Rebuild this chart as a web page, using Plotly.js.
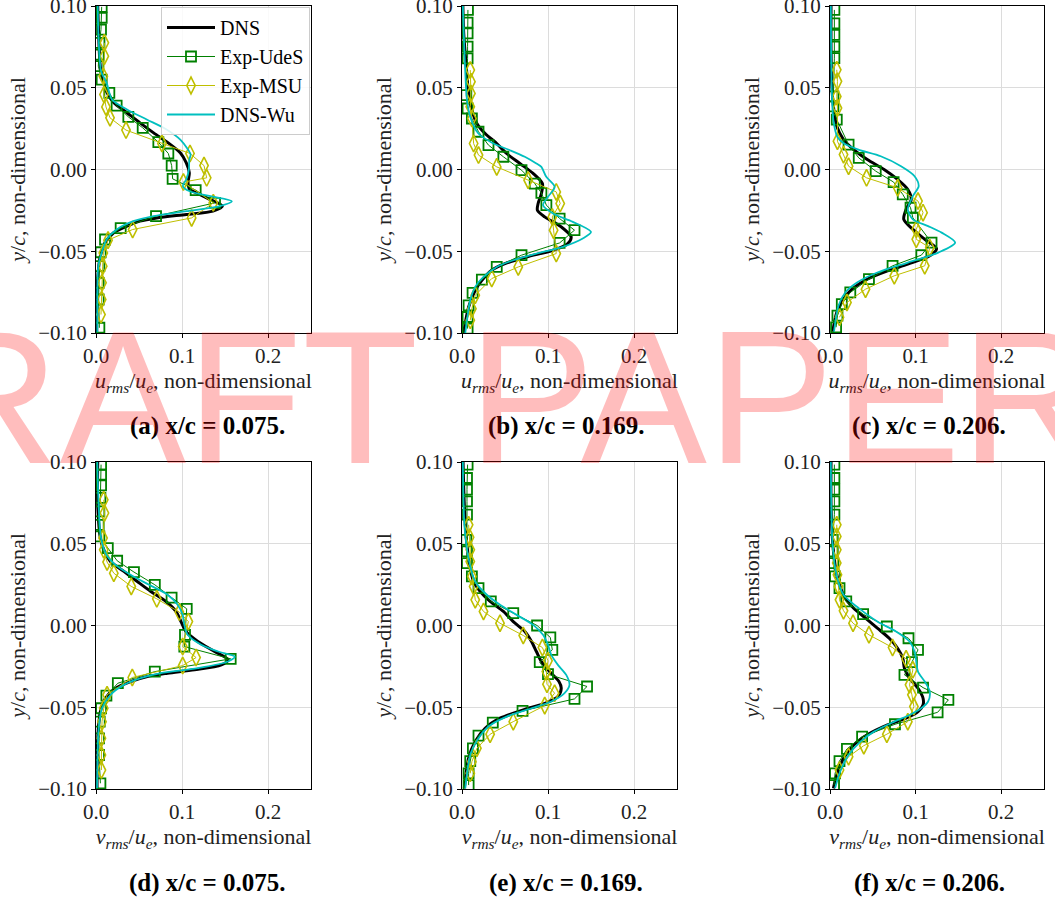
<!DOCTYPE html>
<html><head><meta charset="utf-8">
<script src="https://cdn.plot.ly/plotly-3.0.1.min.js"></script>
<style>html,body{margin:0;padding:0;background:#fff}</style>
</head><body><div id="chart" style="width:1055px;height:900px"></div>
<script>
// ---------- (a) u_rms, x/c = 0.075 ----------
const a_dns_x = [0.002,0.003,0.005,0.009,0.0128,0.0205,0.036,0.0512,0.067,0.084,0.098,0.105,0.1085,0.107,0.109,0.117,0.1326,0.147,0.136,0.105,0.0705,0.051,0.036,0.0205,0.0105,0.005,0.0016,0.0008];
const a_dns_y = [0.1,0.0836,0.063,0.053,0.047,0.041,0.0347,0.0285,0.0224,0.0163,0.0102,0.004,-0.002,-0.0082,-0.0122,-0.0143,-0.0183,-0.0224,-0.0255,-0.0275,-0.0296,-0.0316,-0.0347,-0.0387,-0.0449,-0.053,-0.0693,-0.0995];
const a_udes_x = [0.0066,0.0066,0.0058,0.004,0.0031,0.0027,0.0066,0.0155,0.024,0.0376,0.0543,0.0725,0.0841,0.088,0.0891,0.1159,0.1384,0.0698,0.0287,0.0105,0.0054,0.0039,0.0031,0.0031,0.0039];
const a_udes_y = [0.0995,0.0928,0.0856,0.0775,0.0703,0.0632,0.055,0.0469,0.0391,0.0322,0.0255,0.0167,0.0098,0.0024,-0.0057,-0.0126,-0.0204,-0.0285,-0.0359,-0.0428,-0.0506,-0.0591,-0.0693,-0.0795,-0.0968];
const a_msu_x = [0.0097,0.0097,0.0085,0.0093,0.0116,0.0163,0.0349,0.0767,0.1093,0.1256,0.1287,0.1016,0.1364,0.1112,0.0426,0.014,0.0085,0.0078,0.007,0.0066,0.0058];
const a_msu_y = [0.0775,0.0693,0.0571,0.0459,0.0383,0.0316,0.0241,0.0159,0.0098,0.0024,-0.0051,-0.0077,-0.0204,-0.0296,-0.0367,-0.0432,-0.051,-0.0591,-0.0693,-0.0795,-0.0887];
const a_wu_x = [0.002,0.003,0.006,0.0124,0.0186,0.036,0.059,0.082,0.098,0.107,0.11,0.1085,0.108,0.105,0.101,0.109,0.133,0.158,0.144,0.105,0.067,0.0434,0.024,0.0124,0.0066,0.0027,0.0016];
const a_wu_y = [0.1,0.08,0.06,0.053,0.0428,0.0367,0.0306,0.0245,0.0183,0.0122,0.0092,0.006,0,-0.006,-0.0102,-0.0133,-0.0163,-0.0194,-0.0224,-0.0255,-0.0285,-0.0316,-0.0367,-0.0428,-0.051,-0.059,-0.0995];

// ---------- (b) u_rms, x/c = 0.169 ----------
const b_dns_x = [0.001,0.002,0.005,0.0077,0.0115,0.0173,0.0269,0.0404,0.0519,0.0673,0.0827,0.0935,0.0923,0.0885,0.0877,0.0962,0.1154,0.1269,0.123,0.1058,0.075,0.05,0.0346,0.0231,0.0154,0.0077,0.0019];
const b_dns_y = [0.1,0.0833,0.0629,0.0465,0.0363,0.0282,0.022,0.0159,0.0098,0.0037,-0.0024,-0.0086,-0.0147,-0.0208,-0.0249,-0.029,-0.0351,-0.0412,-0.0453,-0.0494,-0.0535,-0.0576,-0.0616,-0.0678,-0.0739,-0.0841,-0.1];
const b_udes_x = [0.0069,0.0065,0.0065,0.0065,0.0065,0.005,0.0065,0.0115,0.0192,0.0308,0.0481,0.0692,0.0846,0.0923,0.0981,0.1135,0.1308,0.1135,0.0692,0.0404,0.0231,0.0123,0.0077,0.0065,0.0065];
const b_udes_y = [0.0976,0.0898,0.0833,0.0751,0.068,0.0455,0.0373,0.0312,0.0231,0.0149,0.0078,-0.0004,-0.0086,-0.0143,-0.0218,-0.03,-0.0371,-0.0449,-0.0524,-0.0596,-0.0673,-0.0755,-0.0831,-0.0902,-0.0973];
const b_msu_x = [0.0096,0.0104,0.0104,0.0096,0.0115,0.0135,0.0192,0.0404,0.0769,0.1096,0.1142,0.105,0.1065,0.1096,0.0654,0.0346,0.0154,0.0115,0.0096];
const b_msu_y = [0.0608,0.0537,0.0465,0.0384,0.0312,0.0159,0.0088,0.0016,-0.0065,-0.0137,-0.0208,-0.029,-0.0371,-0.0514,-0.0596,-0.0667,-0.0769,-0.0851,-0.0922];
const b_wu_x = [0.001,0.003,0.0058,0.0096,0.019,0.0365,0.0558,0.073,0.0865,0.0923,0.098,0.1077,0.1,0.0942,0.1058,0.1288,0.15,0.1404,0.1173,0.0865,0.0596,0.0404,0.025,0.0154,0.0096,0.0038];
const b_wu_y = [0.1,0.07,0.0424,0.0322,0.022,0.0159,0.0118,0.0078,0.0037,0.0016,-0.0045,-0.0106,-0.0167,-0.0218,-0.0269,-0.032,-0.0382,-0.0422,-0.0473,-0.0514,-0.0555,-0.0596,-0.0657,-0.0718,-0.08,-0.1];

// ---------- (c) u_rms, x/c = 0.206 ----------
const c_dns_x = [0.0012,0.0012,0.002,0.004,0.0079,0.0158,0.0277,0.0435,0.0632,0.079,0.0909,0.0949,0.0889,0.0862,0.0968,0.1107,0.1245,0.1166,0.0909,0.0672,0.0435,0.0257,0.0158,0.0079,0.0032];
const c_dns_y = [0.1,0.0732,0.0528,0.0386,0.0264,0.0183,0.0122,0.0061,0,-0.0061,-0.0122,-0.0183,-0.0244,-0.0305,-0.0366,-0.0427,-0.0484,-0.0528,-0.0579,-0.062,-0.0671,-0.0732,-0.0793,-0.0874,-0.0992];
const c_udes_x = [0.0051,0.0051,0.0051,0.0051,0.0051,0.004,0.004,0.0079,0.0217,0.0336,0.0534,0.0743,0.085,0.0941,0.0968,0.1186,0.1067,0.0731,0.0455,0.0237,0.0138,0.0087,0.0071];
const c_udes_y = [0.0976,0.0894,0.0823,0.0752,0.0681,0.0447,0.0386,0.0305,0.0152,0.0071,-0.001,-0.0077,-0.0152,-0.0234,-0.0295,-0.0447,-0.0524,-0.0589,-0.0671,-0.0752,-0.0823,-0.0894,-0.0965];
const c_msu_x = [0.0079,0.0087,0.0079,0.0087,0.0087,0.0158,0.0217,0.0427,0.0791,0.1028,0.1087,0.1008,0.1008,0.1166,0.1107,0.0751,0.0415,0.0198,0.0111];
const c_msu_y = [0.061,0.0539,0.0447,0.0376,0.0173,0.0091,0.002,-0.0051,-0.0112,-0.0193,-0.0264,-0.0366,-0.0427,-0.0478,-0.0589,-0.065,-0.0732,-0.0813,-0.0904];
const c_wu_x = [0.001,0.002,0.004,0.0085,0.016,0.034,0.0593,0.083,0.0988,0.1036,0.0968,0.0909,0.0968,0.1146,0.1304,0.1462,0.1265,0.0909,0.0553,0.0316,0.0178,0.0099,0.0047];
const c_wu_y = [0.1,0.05,0.03,0.02,0.016,0.012,0.0081,0.002,-0.0041,-0.0102,-0.0163,-0.0244,-0.0305,-0.0346,-0.0386,-0.0447,-0.0508,-0.0569,-0.063,-0.0691,-0.0752,-0.0833,-0.0992];

// ---------- (d) v_rms, x/c = 0.075 ----------
const d_dns_x = [0.002,0.002,0.0051,0.0098,0.0168,0.0324,0.048,0.0637,0.0813,0.093,0.0988,0.1047,0.1184,0.1379,0.1535,0.1457,0.1145,0.0832,0.0598,0.0402,0.0227,0.0109,0.0051,0.002,0.0012];
const d_dns_y = [0.1,0.0739,0.0535,0.0453,0.0392,0.0331,0.0269,0.0208,0.0147,0.0086,0.0024,-0.0037,-0.0098,-0.0159,-0.021,-0.0241,-0.0271,-0.0292,-0.0312,-0.0343,-0.0384,-0.0445,-0.0527,-0.069,-0.0996];
const d_udes_x = [0.0059,0.0059,0.0059,0.0051,0.0039,0.0031,0.0039,0.0137,0.0246,0.0441,0.0684,0.0879,0.1055,0.1035,0.1027,0.1566,0.0684,0.0254,0.0121,0.0059,0.0043,0.0035,0.0035,0.0051];
const d_udes_y = [0.0984,0.0922,0.0857,0.078,0.0698,0.0616,0.0545,0.0473,0.0396,0.0327,0.0249,0.0171,0.0102,-0.0057,-0.0129,-0.0204,-0.0282,-0.0353,-0.0429,-0.0506,-0.0588,-0.069,-0.0792,-0.0965];
const d_msu_x = [0.009,0.0098,0.0082,0.009,0.0129,0.0207,0.041,0.0707,0.0969,0.1074,0.1008,0.1164,0.1008,0.0422,0.0129,0.009,0.007,0.0063,0.0063,0.0063];
const d_msu_y = [0.0769,0.0688,0.0535,0.0463,0.0388,0.032,0.0239,0.0163,0.0082,0.0024,-0.0129,-0.0196,-0.0245,-0.0318,-0.0424,-0.0506,-0.0588,-0.069,-0.0792,-0.0884];
const d_wu_x = [0.0015,0.0059,0.0121,0.0227,0.0402,0.0617,0.0832,0.0949,0.1008,0.1027,0.1066,0.1223,0.1418,0.1613,0.1535,0.1184,0.0754,0.052,0.0324,0.0168,0.007,0.0031,0.0012];
const d_wu_y = [0.1,0.0535,0.0433,0.0371,0.031,0.0249,0.0188,0.0127,0.0065,0.0004,-0.0057,-0.0118,-0.0159,-0.019,-0.022,-0.0261,-0.0292,-0.0322,-0.0363,-0.0424,-0.0506,-0.0629,-0.0996];

// ---------- (e) v_rms, x/c = 0.169 ----------
const e_dns_x = [0.0012,0.0027,0.005,0.0088,0.0135,0.0212,0.0327,0.0481,0.0596,0.0731,0.0808,0.0865,0.0923,0.1019,0.1127,0.1154,0.1115,0.0962,0.0712,0.0442,0.0269,0.0154,0.0077,0.0027];
const e_dns_y = [0.1,0.0739,0.0535,0.0371,0.0269,0.0208,0.0147,0.0086,0.0024,-0.0037,-0.0098,-0.0159,-0.022,-0.0282,-0.0343,-0.0384,-0.0435,-0.0476,-0.0516,-0.0567,-0.0629,-0.071,-0.0812,-0.0996];
const e_udes_x = [0.0065,0.0058,0.0058,0.0058,0.0058,0.005,0.0058,0.0058,0.0115,0.0192,0.0335,0.0596,0.0873,0.1027,0.105,0.0904,0.1,0.1454,0.1308,0.0704,0.0358,0.0192,0.0127,0.0096,0.0077,0.0077];
const e_udes_y = [0.0984,0.0902,0.0831,0.0759,0.0678,0.0524,0.0453,0.0382,0.03,0.0229,0.0147,0.0076,0,-0.0073,-0.0149,-0.0224,-0.0298,-0.0373,-0.0449,-0.0522,-0.0594,-0.0673,-0.0751,-0.0829,-0.0904,-0.0976];
const e_msu_x = [0.0077,0.0088,0.0096,0.0096,0.0115,0.0135,0.0154,0.025,0.0442,0.0712,0.0935,0.1,0.0981,0.0988,0.1077,0.0962,0.0596,0.0327,0.0173,0.0115,0.0096];
const e_msu_y = [0.0616,0.0539,0.0463,0.0392,0.03,0.0239,0.0157,0.0086,0.0014,-0.0061,-0.0135,-0.0216,-0.0282,-0.0359,-0.0414,-0.049,-0.0588,-0.0665,-0.0751,-0.0833,-0.0904];
const e_wu_x = [0.001,0.003,0.008,0.0154,0.0288,0.0442,0.0635,0.0827,0.0942,0.1,0.1038,0.1115,0.1212,0.125,0.1192,0.1038,0.0808,0.0519,0.0308,0.0192,0.0096,0.0038];
const e_wu_y = [0.1,0.06,0.04,0.0269,0.0188,0.0127,0.0065,0.0004,-0.0057,-0.0118,-0.018,-0.0241,-0.0302,-0.0363,-0.0414,-0.0465,-0.0506,-0.0557,-0.0618,-0.069,-0.0792,-0.0996];

// ---------- (f) v_rms, x/c = 0.206 ----------
const f_dns_x = [0.0012,0.0012,0.0028,0.0059,0.0111,0.0178,0.0277,0.0415,0.0553,0.0692,0.079,0.085,0.087,0.0929,0.1028,0.1087,0.1087,0.1028,0.0889,0.0672,0.0435,0.0277,0.0158,0.0079,0.004];
const f_dns_y = [0.1,0.0739,0.0535,0.0371,0.0249,0.0167,0.0106,0.0045,-0.0016,-0.0078,-0.0139,-0.02,-0.0261,-0.0322,-0.0384,-0.0445,-0.0486,-0.0527,-0.0567,-0.0608,-0.0669,-0.0731,-0.0812,-0.0914,-0.0996];
const f_udes_x = [0.0051,0.0051,0.0051,0.0051,0.0051,0.0032,0.0032,0.004,0.0059,0.0111,0.019,0.0387,0.0664,0.0917,0.1028,0.0957,0.087,0.1087,0.1383,0.1257,0.0759,0.0375,0.0198,0.0111,0.0059,0.0047];
const f_udes_y = [0.0984,0.0902,0.0831,0.0759,0.0678,0.0524,0.0453,0.0382,0.03,0.0229,0.0147,0.0069,-0.0006,-0.0078,-0.0149,-0.0224,-0.0302,-0.038,-0.0455,-0.0531,-0.0604,-0.068,-0.0755,-0.0829,-0.0904,-0.0976];
const f_msu_x = [0.0079,0.0079,0.0079,0.0079,0.0087,0.0099,0.0111,0.0158,0.0269,0.0455,0.0731,0.0889,0.0968,0.0929,0.0957,0.098,0.0909,0.0664,0.0395,0.0217,0.0111];
const f_msu_y = [0.0616,0.0545,0.0463,0.0382,0.031,0.0239,0.0157,0.009,0.0014,-0.0057,-0.0135,-0.0204,-0.0271,-0.0363,-0.0424,-0.0496,-0.0588,-0.0665,-0.0735,-0.0802,-0.0884];
const f_wu_x = [0.001,0.003,0.008,0.0158,0.0336,0.0553,0.0771,0.0929,0.0988,0.1008,0.1028,0.1107,0.1166,0.1146,0.1067,0.0929,0.0751,0.0514,0.0356,0.0217,0.0119,0.0059];
const f_wu_y = [0.1,0.05,0.03,0.0188,0.0106,0.0024,-0.0037,-0.0098,-0.0159,-0.022,-0.0282,-0.0343,-0.0404,-0.0465,-0.0506,-0.0547,-0.0588,-0.0649,-0.071,-0.0792,-0.0894,-0.0996];

const seriesNames = ['DNS','Exp-UdeS','Exp-MSU','DNS-Wu'];
const captions = ['(a) x/c = 0.075.','(b) x/c = 0.169.','(c) x/c = 0.206.','(d) x/c = 0.075.','(e) x/c = 0.169.','(f) x/c = 0.206.'];
const xTitles = ['<i>u<sub>rms</sub></i>/<i>u<sub>e</sub></i>, non-dimensional','<i>v<sub>rms</sub></i>/<i>u<sub>e</sub></i>, non-dimensional'];
const yTitle = '<i>y</i>/<i>c</i>, non-dimensional';

const panels = [
  [a_dns_x,a_dns_y,a_udes_x,a_udes_y,a_msu_x,a_msu_y,a_wu_x,a_wu_y],
  [b_dns_x,b_dns_y,b_udes_x,b_udes_y,b_msu_x,b_msu_y,b_wu_x,b_wu_y],
  [c_dns_x,c_dns_y,c_udes_x,c_udes_y,c_msu_x,c_msu_y,c_wu_x,c_wu_y],
  [d_dns_x,d_dns_y,d_udes_x,d_udes_y,d_msu_x,d_msu_y,d_wu_x,d_wu_y],
  [e_dns_x,e_dns_y,e_udes_x,e_udes_y,e_msu_x,e_msu_y,e_wu_x,e_wu_y],
  [f_dns_x,f_dns_y,f_udes_x,f_udes_y,f_msu_x,f_msu_y,f_wu_x,f_wu_y]
];

const W = 1055, H = 900;
const colDom = [[96,311],[462,677],[830,1044]];
const rowDom = [[6,333],[462,789]];
const capX = [207,566,929];
const capY = [426,883];
const FONT = 'Liberation Serif';

const traces = [];
const layout = {
  width: W, height: H,
  margin: {l:0,r:0,t:0,b:0},
  paper_bgcolor: '#fff', plot_bgcolor: '#fff',
  font: {family: FONT, size: 21, color: '#000'},
  showlegend: true,
  legend: {x: 310/W, y: 1-7/H, xanchor:'right', yanchor:'top',
    bgcolor:'rgba(255,255,255,0.85)', bordercolor:'#cccccc', borderwidth:1,
    font:{family:FONT, size:20}, tracegroupgap:0, itemwidth:48},
  annotations: []
};

panels.forEach((p, i) => {
  const n = i + 1;
  const xa = 'x' + (n === 1 ? '' : n), ya = 'y' + (n === 1 ? '' : n);
  const col = i % 3, row = Math.floor(i / 3);
  const leg = i === 0;
  traces.push({x:p[0], y:p[1], xaxis:xa, yaxis:ya, type:'scatter', mode:'lines', name:seriesNames[0],
    line:{color:'#000000', width:3, shape:'spline', smoothing:0.8}, showlegend:leg});
  traces.push({x:p[2], y:p[3], xaxis:xa, yaxis:ya, type:'scatter', mode:'lines+markers', name:seriesNames[1],
    line:{color:'#008000', width:1},
    marker:{symbol:'square-open', size:10, color:'#008000', line:{width:1.8, color:'#008000'}}, showlegend:leg});
  traces.push({x:p[4], y:p[5], xaxis:xa, yaxis:ya, type:'scatter', mode:'lines+markers', name:seriesNames[2],
    line:{color:'#bfbf00', width:1},
    marker:{symbol:'diamond-tall-open', size:12, color:'#bfbf00', line:{width:1.6, color:'#bfbf00'}}, showlegend:leg});
  traces.push({x:p[6], y:p[7], xaxis:xa, yaxis:ya, type:'scatter', mode:'lines', name:seriesNames[3],
    line:{color:'#00bfbf', width:1.8, shape:'spline', smoothing:0.8}, showlegend:leg});

  const axCommon = {showline:true, mirror:true, linecolor:'#000', linewidth:1,
    ticks:'outside', ticklen:4, tickcolor:'#000', tickwidth:1,
    showgrid:true, gridcolor:'#dcdcdc', gridwidth:1, zeroline:false,
    ticklabeloverflow:'allow',
    tickfont:{family:FONT, size:21, color:'#222'}};
  layout['xaxis' + (n === 1 ? '' : n)] = Object.assign({}, axCommon, {
    domain:[colDom[col][0]/W, colDom[col][1]/W], anchor: ya,
    range:[0,0.25], dtick:0.1, tick0:0, tickformat:'.1f',
    title:{text:xTitles[row], font:{family:FONT, size:22, color:'#222'}, standoff:2}
  });
  layout['yaxis' + (n === 1 ? '' : n)] = Object.assign({}, axCommon, {
    domain:[1-rowDom[row][1]/H, 1-rowDom[row][0]/H], anchor: xa,
    range:[-0.1,0.1], dtick:0.05, tick0:0, tickformat:'.2f',
    title:{text:yTitle, font:{family:FONT, size:22, color:'#222'}, standoff:6}
  });
  layout.annotations.push({xref:'paper', yref:'paper', x:capX[col]/W, y:1-capY[row]/H,
    xanchor:'center', yanchor:'middle', showarrow:false,
    text:'<b>' + captions[i] + '</b>', font:{family:FONT, size:25, color:'#000'}});
});

layout.annotations.push({xref:'paper', yref:'paper', x:441/W, y:1-397/H, xanchor:'center', yanchor:'middle',
  showarrow:false, text:'DRAFT PAPER', font:{family:'Liberation Sans', size:190, color:'rgba(255,0,0,0.26)'}});

Plotly.newPlot('chart', traces, layout, {displayModeBar:false, staticPlot:true});
</script></body></html>
